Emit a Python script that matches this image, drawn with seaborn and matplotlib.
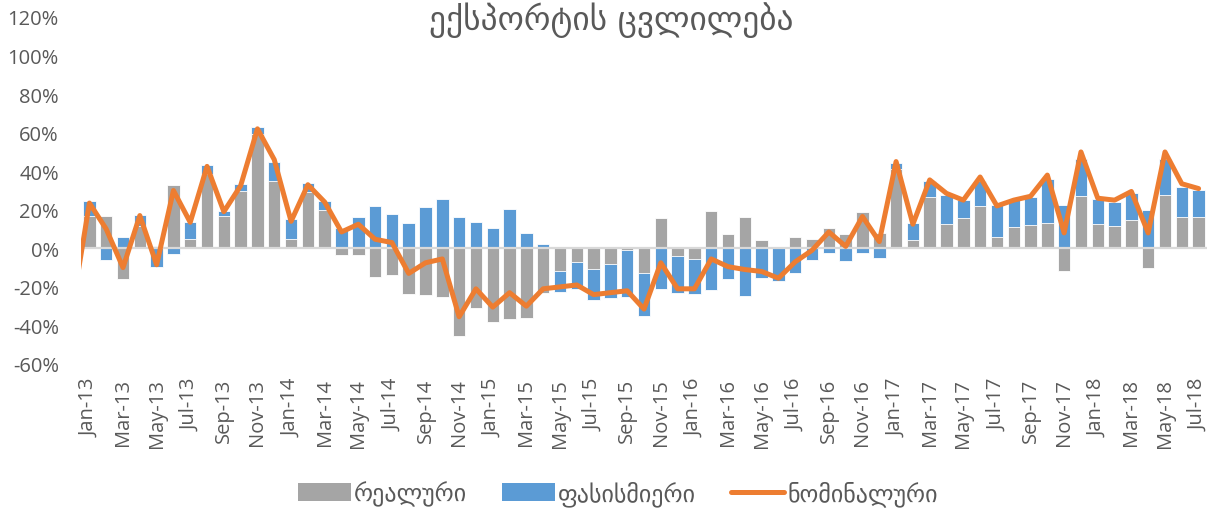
import numpy as np
import pandas as pd
import matplotlib
matplotlib.use("Agg")
import matplotlib.pyplot as plt
import seaborn as sns
from matplotlib.patches import Patch
from matplotlib.lines import Line2D

# monthly change of exports, % y/y
months = pd.date_range("2013-01-01", periods=67, freq="MS").strftime("%b-%y").tolist()

real = [16.8, 16.8, -15.8, 11.5, 1.2, 33.0, 4.7, 38.5, 17.0, 30.0, 59.5, 35.0,
        5.0, 29.0, 20.0, -3.5, -3.5, -15.0, -13.8, -23.6, -24.3, -25.2, -45.4, -31.0,
        -38.3, -36.5, -36.2, -23.0, -12.0, -6.9, -10.9, -8.0, -1.0, -12.7, 15.8, -4.0,
        -5.7, 19.5, 7.3, 16.3, 4.3, 0.9, 6.1, 4.7, 10.4, 7.6, 19.1, 8.2,
        41.0, 4.3, 26.5, 12.5, 15.5, 22.0, 6.0, 11.3, 12.0, 13.0, -11.8, 27.3,
        12.5, 11.6, 14.8, -10.0, 27.6, 16.0, 16.0]

price = [7.5, -6.0, 5.9, 6.0, -9.7, -2.8, 9.2, 4.5, 2.5, 3.5, 3.5, 10.0,
         10.0, 4.7, 4.7, 10.8, 16.0, 22.0, 18.0, 13.4, 21.2, 25.5, 16.5, 13.9,
         10.8, 20.3, 7.8, 2.0, -10.5, -14.0, -16.0, -18.0, -24.0, -22.6, -21.0, -19.0,
         -18.0, -21.4, -16.0, -24.5, -15.5, -17.0, -13.0, -6.1, -2.3, -6.6, -2.6, -4.9,
         3.5, 9.0, 8.5, 15.0, 9.5, 13.0, 16.4, 13.7, 14.8, 23.0, 22.4, 19.0,
         13.0, 12.6, 13.7, 20.0, 18.8, 16.0, 14.3]

nominal = [23.5, 10.0, -10.0, 17.0, -8.5, 30.0, 13.5, 42.5, 19.0, 32.5, 62.0, 46.0,
           14.0, 33.0, 24.0, 8.5, 12.5, 4.7, 3.0, -13.0, -7.5, -5.5, -35.5, -21.0,
           -30.5, -23.0, -30.0, -21.0, -20.0, -19.0, -24.0, -23.0, -22.0, -31.5, -7.5, -21.0,
           -21.0, -5.5, -9.5, -11.0, -12.0, -15.5, -7.0, -1.0, 8.5, 1.0, 16.5, 3.5,
           45.0, 12.5, 35.5, 28.5, 25.0, 37.0, 22.0, 25.0, 27.0, 38.0, 8.0, 50.0,
           26.0, 25.0, 29.5, 8.0, 50.0, 33.5, 31.0]
nominal_dec12 = -30.0  # previous month, line enters from the left edge

title = "ექსპორტის ცვლილება"
legend_labels = ["რეალური", "ფასისმიერი", "ნომინალური"]

GREY = "#A5A5A5"
BLUE = "#5B9BD5"
ORANGE = "#ED7D31"
TEXT = "#595959"

sns.set_theme(style="white")
plt.rcParams["font.family"] = ["Open Sans", "DejaVu Sans"]

pos = np.arange(len(months))
real_a = np.array(real)
price_a = np.array(price)
# excel-style stacking: same sign stacks on top of real, opposite sign starts at 0
blue_top = np.where(np.sign(real_a) == np.sign(price_a), real_a + price_a, price_a)

df = pd.DataFrame({"pos": pos, "real": real_a, "blue_top": blue_top})
line_df = pd.DataFrame({"pos": np.arange(-1, len(months)),
                        "nominal": [nominal_dec12] + nominal})

fig = plt.figure(figsize=(12.14, 5.10), dpi=100)
ax = fig.add_axes([81 / 1214, 1 - 365 / 510, (1207 - 81) / 1214, (365 - 18) / 510])

sns.barplot(data=df, x="pos", y="blue_top", native_scale=True, width=0.74,
            color=BLUE, saturation=1, errorbar=None, linewidth=0.6,
            edgecolor="white", ax=ax, zorder=2)
sns.barplot(data=df, x="pos", y="real", native_scale=True, width=0.74,
            color=GREY, saturation=1, errorbar=None, linewidth=0.6,
            edgecolor="white", ax=ax, zorder=2)
ax.axhline(0, color="#D9D9D9", linewidth=1.6, zorder=3)
sns.lineplot(data=line_df, x="pos", y="nominal", color=ORANGE, linewidth=3.6,
             solid_joinstyle="round", solid_capstyle="round", ax=ax, zorder=4)

ax.set_xlim(-0.5, len(months) - 0.5)
ax.set_ylim(-60, 120)
ax.set_yticks(range(-60, 121, 20))
ax.set_yticklabels([f"{v}%" for v in range(-60, 121, 20)])
ax.set_xticks(pos[::2])
ax.set_xticklabels(months[::2], rotation=90)
ax.tick_params(axis="both", length=0, labelsize=14.5, labelcolor=TEXT)
ax.tick_params(axis="y", pad=16)
ax.tick_params(axis="x", pad=10)
ax.set_xlabel("")
ax.set_ylabel("")
for s in ax.spines.values():
    s.set_visible(False)

# title sits at the very top edge of the chart
fig.text(611 / 1214, 1 - 2 / 510, title, ha="center", va="top",
         fontsize=24, color=TEXT, family=["DejaVu Sans"])

handles = [Patch(facecolor=GREY, edgecolor="none"),
           Patch(facecolor=BLUE, edgecolor="none"),
           Line2D([], [], color=ORANGE, linewidth=3.6)]
lsize = 17.3
lf = lsize * 100 / 72
fig.legend(handles, legend_labels, loc="center", bbox_to_anchor=(618 / 1214, 1 - 494 / 510),
           ncol=3, frameon=False, labelcolor=TEXT,
           handlelength=53 / lf, handleheight=18 / lf, handletextpad=3 / lf,
           columnspacing=35 / lf, prop={"family": ["DejaVu Sans"], "size": lsize})

fig.savefig("out.png", dpi=100)
